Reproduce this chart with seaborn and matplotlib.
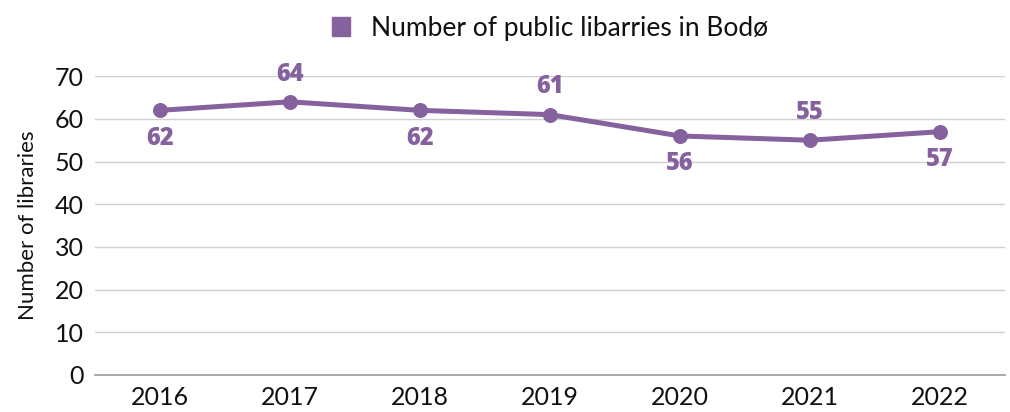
import matplotlib
matplotlib.use("Agg")
import matplotlib.pyplot as plt
from matplotlib.patches import Patch
import seaborn as sns
import pandas as pd

years = ["2016", "2017", "2018", "2019", "2020", "2021", "2022"]
libraries = [62, 64, 62, 61, 56, 55, 57]
label_above = [False, True, False, True, False, True, False]
series_name = "Number of public libarries in Bodø"
y_label = "Number of libraries"

purple = "#85619e"
ink = "#111111"

sns.set_theme(style="white")
plt.rcParams["font.family"] = ["Lato", "DejaVu Sans"]

df = pd.DataFrame({"year": years, "count": libraries})

fig = plt.figure(figsize=(10.1, 4.12), dpi=100)
ax = fig.add_axes([0.094, 0.09, 0.901, 0.725])

sns.lineplot(data=df, x="year", y="count", ax=ax, color=purple,
             linewidth=3.6, marker="o", markersize=10,
             markeredgecolor=purple, sort=False)

for i, (v, up) in enumerate(zip(libraries, label_above)):
    ax.annotate(str(v), (i, v), xytext=(0, 20 if up else -20),
                textcoords="offset points", ha="center", va="center",
                fontsize=17, fontweight="black", color=purple,
                family=["Open Sans", "DejaVu Sans"])

ax.set_ylim(0, 70)
ax.set_xlim(-0.5, len(years) - 0.5)
ax.set_yticks(range(0, 71, 10))
ax.yaxis.grid(True, color="#d0d0d0", linewidth=1)
ax.tick_params(axis="both", labelsize=18, length=0, colors=ink, pad=8)
ax.set_xlabel("")
ax.set_ylabel(y_label, fontsize=16, color=ink, labelpad=12)

for side in ["top", "right", "left"]:
    ax.spines[side].set_visible(False)
ax.spines["bottom"].set_color("#999999")
ax.spines["bottom"].set_linewidth(1.2)

handle = Patch(facecolor=purple, edgecolor=purple)
ax.legend([handle], [series_name], loc="lower center",
          bbox_to_anchor=(0.5, 1.04), frameon=False, fontsize=19,
          labelcolor=ink, handlelength=0.7, handleheight=0.7,
          handletextpad=0.8)

fig.savefig("out.png", dpi=100)
